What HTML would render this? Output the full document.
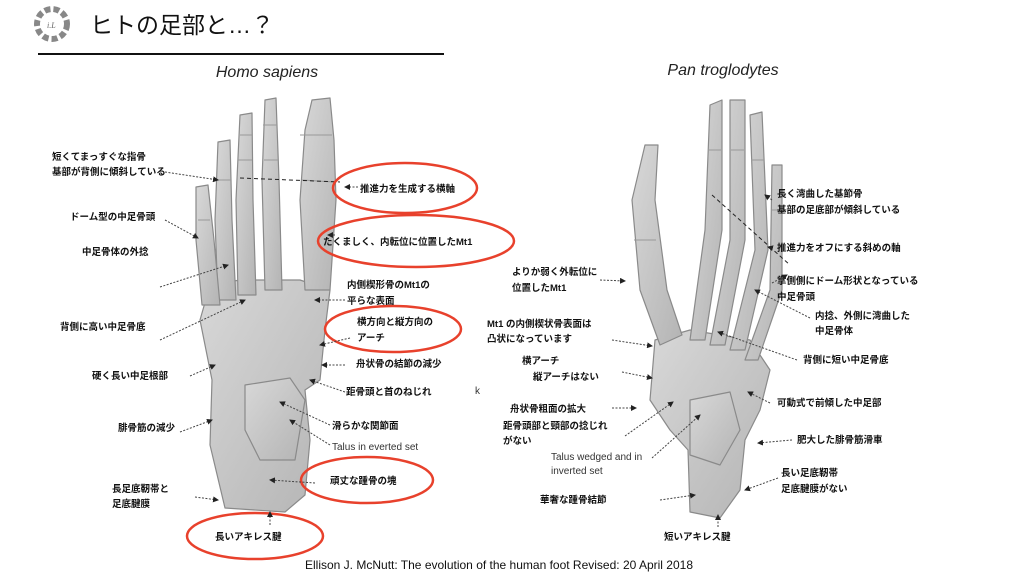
<!DOCTYPE html>
<html><head><meta charset="utf-8"><style>
body{margin:0;background:#fff;width:1024px;height:576px;overflow:hidden}
svg{display:block}
.j{font-family:"Liberation Sans","Noto Sans CJK JP",sans-serif;font-size:9.5px;font-weight:bold;fill:#111}
.n{font-family:"Liberation Sans","Noto Sans CJK JP",sans-serif;font-size:10px;fill:#333}
.b{fill:url(#g);stroke:#8a8a8a;stroke-width:1.2;stroke-linejoin:round}
.a{stroke:#444;stroke-width:1;stroke-dasharray:2 1.5;fill:none;marker-end:url(#ar)}
.e{fill:none;stroke:#e8412c;stroke-width:2.5}
.jt{stroke:#999;stroke-width:1}
</style></head><body>
<svg width="1024" height="576" viewBox="0 0 1024 576">
<defs><marker id="ar" markerWidth="6" markerHeight="6" refX="5" refY="3" orient="auto"><path d="M0,0 L6,3 L0,6z" fill="#222"/></marker>
<linearGradient id="g" x1="0" y1="0" x2="1" y2="1"><stop offset="0" stop-color="#d8d8d8"/><stop offset="1" stop-color="#b4b4b4"/></linearGradient></defs>
<g transform="translate(52,24)">
<circle r="15" fill="none" stroke="#888" stroke-width="6" stroke-dasharray="6 3"/>
<text x="-5" y="4" font-size="8" font-style="italic" fill="#666" font-family="Liberation Serif">i.L</text>
</g>
<text x="90" y="33" font-family="Liberation Sans,Noto Sans CJK JP,sans-serif" font-size="23" fill="#111">ヒトの足部と…？</text>
<line x1="38" y1="54" x2="444" y2="54" stroke="#111" stroke-width="2"/>
<text x="267" y="77" text-anchor="middle" font-family="Liberation Sans" font-style="italic" font-size="16" fill="#222">Homo sapiens</text>
<text x="723" y="75" text-anchor="middle" font-family="Liberation Sans" font-style="italic" font-size="16" fill="#222">Pan troglodytes</text>

<g>
<path class="b" d="M225,508 L210,445 L212,380 L200,320 L210,285 L240,280 L300,280 L330,290 L325,330 L320,380 L305,390 L310,440 L305,495 L285,512 Z"/>
<path class="b" d="M305,290 L300,200 L305,130 L312,100 L330,98 L334,140 L336,200 L330,290 Z"/>
<path class="b" d="M265,290 L262,180 L265,100 L276,98 L279,180 L282,290 Z"/>
<path class="b" d="M238,295 L236,200 L240,115 L252,113 L253,200 L256,295 Z"/>
<path class="b" d="M218,300 L215,220 L218,142 L230,140 L232,220 L236,300 Z"/>
<path class="b" d="M202,305 L196,240 L196,187 L208,185 L214,240 L220,305 Z"/>
<path class="b" d="M245,385 L290,378 L305,400 L295,460 L260,460 L245,430 Z"/>
<path class="jt" d="M302,180 L334,182 M264,160 L278,160 M238,160 L252,160 M216,180 L231,180 M198,220 L210,220 M300,135 L332,135 M263,125 L277,125 M240,135 L252,135"/>
</g>
<g>
<path class="b" d="M690,512 L688,450 L670,430 L650,400 L655,340 L690,330 L750,340 L770,370 L760,410 L745,440 L740,490 L720,518 Z"/>
<path class="b" d="M660,345 L640,290 L632,200 L645,145 L658,145 L655,200 L667,290 L682,335 Z"/>
<path class="b" d="M690,340 L705,230 L710,105 L722,100 L722,230 L705,340 Z"/>
<path class="b" d="M710,345 L730,240 L730,100 L745,100 L745,240 L725,345 Z"/>
<path class="b" d="M730,350 L755,250 L750,115 L762,112 L768,250 L745,350 Z"/>
<path class="b" d="M745,360 L770,290 L772,165 L782,165 L782,290 L758,360 Z"/>
<path class="b" d="M690,400 L730,392 L740,430 L720,465 L690,455 Z"/>
<path class="jt" d="M634,240 L656,240 M708,150 L721,150 M731,150 L744,150 M751,160 L764,160 M772,210 L782,210"/>
</g>
<line x1="240" y1="178" x2="340" y2="182" stroke="#222" stroke-dasharray="4 3"/>
<line x1="712" y1="195" x2="790" y2="265" stroke="#222" stroke-dasharray="4 3"/>

<ellipse class="e" cx="405" cy="188" rx="72" ry="25"/>
<ellipse class="e" cx="416" cy="241" rx="98" ry="26"/>
<ellipse class="e" cx="393" cy="329" rx="68" ry="23"/>
<ellipse class="e" cx="367" cy="480" rx="66" ry="23"/>
<ellipse class="e" cx="255" cy="536" rx="68" ry="23"/>

<text class="j" x="52" y="160">短くてまっすぐな指骨</text>
<text class="j" x="52" y="175">基部が背側に傾斜している</text>
<text class="j" x="70" y="220">ドーム型の中足骨頭</text>
<text class="j" x="82" y="255">中足骨体の外捻</text>
<text class="j" x="60" y="330">背側に高い中足骨底</text>
<text class="j" x="92" y="379">硬く長い中足根部</text>
<text class="j" x="118" y="431">腓骨筋の減少</text>
<text class="j" x="112" y="492">長足底靭帯と</text>
<text class="j" x="112" y="507">足底腱膜</text>
<text class="j" x="215" y="540">長いアキレス腱</text>
<text class="j" x="360" y="192">推進力を生成する横軸</text>
<text class="j" x="323" y="245">たくましく、内転位に位置したMt1</text>
<text class="j" x="347" y="288">内側楔形骨のMt1の</text>
<text class="j" x="347" y="304">平らな表面</text>
<text class="j" x="357" y="325">横方向と縦方向の</text>
<text class="j" x="357" y="341">アーチ</text>
<text class="j" x="356" y="367">舟状骨の結節の減少</text>
<text class="j" x="346" y="395">距骨頭と首のねじれ</text>
<text class="n" x="475" y="394">k</text>
<text class="j" x="332" y="429">滑らかな関節面</text>
<text class="n" x="332" y="450">Talus in everted set</text>
<text class="j" x="330" y="484">頑丈な踵骨の塊</text>
<path class="a" d="M165,172 L218,180"/>
<path class="a" d="M165,220 L198,238"/>
<path class="a" d="M160,287 L228,265"/>
<path class="a" d="M160,340 L245,300"/>
<path class="a" d="M190,376 L215,365"/>
<path class="a" d="M180,432 L212,420"/>
<path class="a" d="M195,497 L218,500"/>
<path class="a" d="M270,525 L270,512"/>
<path class="a" d="M358,187 L345,187"/>
<path class="a" d="M335,235 L328,235"/>
<path class="a" d="M345,300 L315,300"/>
<path class="a" d="M350,338 L320,345"/>
<path class="a" d="M345,365 L322,365"/>
<path class="a" d="M345,392 L310,380"/>
<path class="a" d="M330,425 L280,402"/>
<path class="a" d="M330,445 L290,420"/>
<path class="a" d="M315,483 L270,480"/>

<text class="j" x="512" y="275">よりか弱く外転位に</text>
<text class="j" x="512" y="291">位置したMt1</text>
<text class="j" x="487" y="327">Mt1 の内側楔状骨表面は</text>
<text class="j" x="487" y="342">凸状になっています</text>
<text class="j" x="522" y="364">横アーチ</text>
<text class="j" x="533" y="380">縦アーチはない</text>
<text class="j" x="510" y="412">舟状骨粗面の拡大</text>
<text class="j" x="503" y="429">距骨頭部と頸部の捻じれ</text>
<text class="j" x="503" y="444">がない</text>
<text class="n" x="551" y="460">Talus wedged and in</text>
<text class="n" x="551" y="474">inverted set</text>
<text class="j" x="540" y="503">華奢な踵骨結節</text>
<text class="j" x="664" y="540">短いアキレス腱</text>
<text class="j" x="777" y="197">長く湾曲した基節骨</text>
<text class="j" x="777" y="213">基部の足底部が傾斜している</text>
<text class="j" x="777" y="251">推進力をオフにする斜めの軸</text>
<text class="j" x="777" y="284">掌側側にドーム形状となっている</text>
<text class="j" x="777" y="300">中足骨頭</text>
<text class="j" x="815" y="319">内捻、外側に湾曲した</text>
<text class="j" x="815" y="334">中足骨体</text>
<text class="j" x="803" y="363">背側に短い中足骨底</text>
<text class="j" x="777" y="406">可動式で前傾した中足部</text>
<text class="j" x="797" y="443">肥大した腓骨筋滑車</text>
<text class="j" x="781" y="476">長い足底靭帯</text>
<text class="j" x="781" y="492">足底腱膜がない</text>
<path class="a" d="M600,280 L625,281"/>
<path class="a" d="M612,340 L652,346"/>
<path class="a" d="M622,372 L652,378"/>
<path class="a" d="M612,408 L636,408"/>
<path class="a" d="M625,436 L673,402"/>
<path class="a" d="M652,458 L700,415"/>
<path class="a" d="M660,500 L695,495"/>
<path class="a" d="M718,527 L718,515"/>
<path class="a" d="M772,200 L765,195"/>
<path class="a" d="M772,248 L768,247"/>
<path class="a" d="M772,283 L787,275"/>
<path class="a" d="M810,318 L755,290"/>
<path class="a" d="M797,360 L718,332"/>
<path class="a" d="M770,403 L748,392"/>
<path class="a" d="M792,440 L758,443"/>
<path class="a" d="M778,478 L745,490"/>

<text x="305" y="569" font-family="Liberation Sans" font-size="12" fill="#111">Ellison J. McNutt: The evolution of the human foot  Revised: 20 April 2018</text>
</svg>
</body></html>
